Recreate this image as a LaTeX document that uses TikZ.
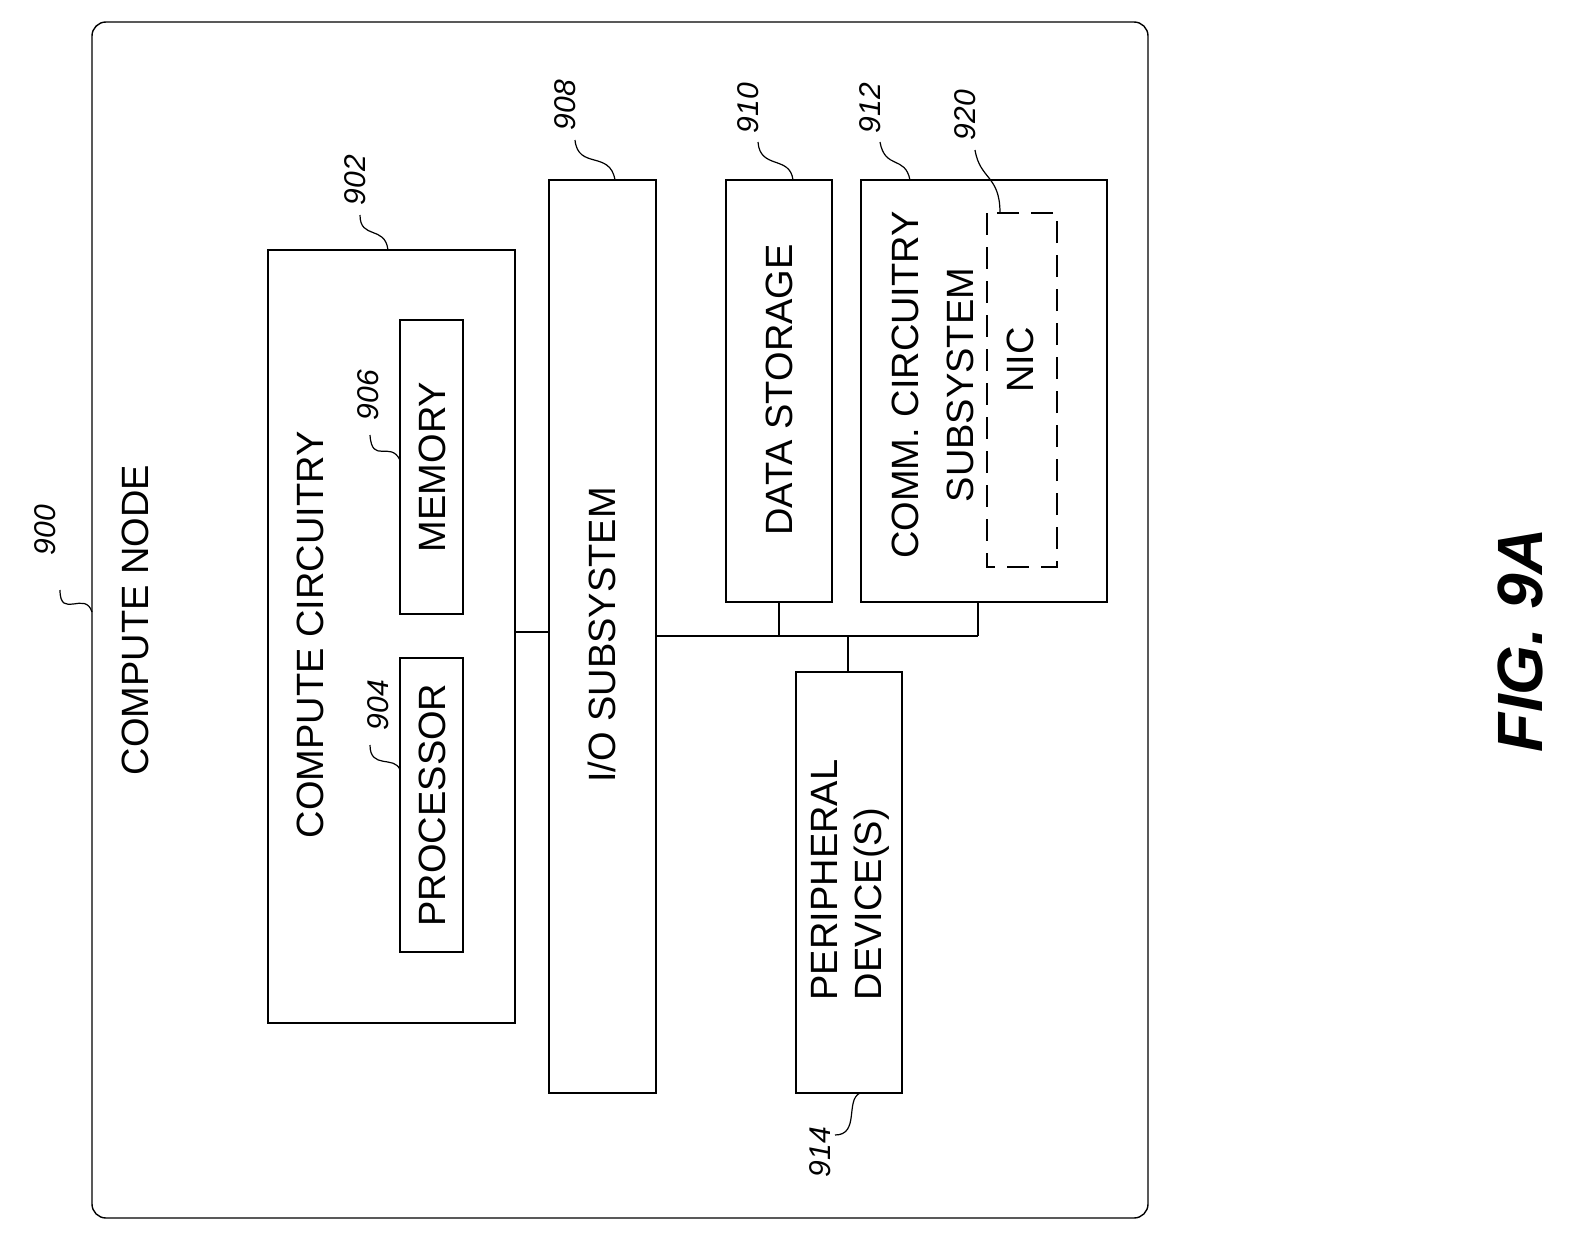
\documentclass[tikz,border=0pt]{standalone}
\usepackage{fontspec}
\setmainfont{Liberation Sans}
\begin{document}
\begin{tikzpicture}[x=1pt,y=-1pt,
  box/.style={draw,line width=1.4pt},
  lbl/.style={rotate=90,font=\fontsize{38}{44}\selectfont,inner sep=0pt,align=left},
  num/.style={rotate=90,font=\fontsize{30}{34}\selectfont\itshape,inner sep=0pt},
  lead/.style={line width=1.2pt}]
\useasboundingbox (0,0) rectangle (1574,1244);
\draw[box,rounded corners=14pt] (92,22) rectangle (1148,1218);
\node[lbl] (cn) at (135,620) {COMPUTE NODE};
\node[num] (n900) at (45,530) {900};
\coordinate (c900) at (92,612);
\draw[lead] (60,590) .. controls (60,620) and (85,590) .. (c900);

% compute circuitry
\draw[box] (268,250) rectangle (515,1023);
\coordinate (ccR) at (515,632);
\node[lbl] (cc) at (310,635) {COMPUTE CIRCUITRY};
\node[num] (n902) at (355,180) {902};
\draw[lead] (360,215) .. controls (360,240) and (385,225) .. (388,250);

\draw[box] (400,658) rectangle (463,952);
\node[lbl] (proc) at (432,805) {PROCESSOR};
\node[num] (n904) at (378,705) {904};
\draw[lead] (370,745) .. controls (370,770) and (395,755) .. (400,770);

\draw[box] (400,320) rectangle (463,614);
\node[lbl] (mem) at (432,467) {MEMORY};
\node[num] (n906) at (368,395) {906};
\draw[lead] (370,435) .. controls (372,465) and (390,440) .. (400,460);

% IO
\draw[box] (549,180) rectangle (656,1093);
\coordinate (ioL) at (549,632);
\coordinate (ioR) at (656,636);
\node[lbl] (io) at (602,635) {I/O SUBSYSTEM};
\node[num] (n908) at (565,105) {908};
\draw[lead] (575,140) .. controls (578,170) and (610,150) .. (615,180);
\draw[lead] (ccR) -- (ioL);

% data storage
\draw[box] (726,180) rectangle (832,602);
\node[lbl] (ds) at (779,390) {DATA STORAGE};
\node[num] (n910) at (748,108) {910};
\draw[lead] (758,142) .. controls (760,170) and (790,155) .. (793,180);

% comm
\draw[box] (861,180) rectangle (1107,602);
\node[lbl] (comm) at (905,385) {COMM. CIRCUITRY};
\node[lbl] (sub) at (960,385) {SUBSYSTEM};
\node[num] (n912) at (870,108) {912};
\draw[lead] (880,142) .. controls (885,170) and (905,155) .. (910,180);
\draw[line width=1.6pt,dash pattern=on 22pt off 12pt] (987,213) rectangle (1057,567);
\node[lbl] (nic) at (1020,360) {NIC};
\node[num] (n920) at (965,115) {920};
\draw[lead] (975,150) .. controls (980,180) and (1000,175) .. (1000,213);

% bus
\coordinate (b1) at (779,636);
\coordinate (b2) at (848,636);
\coordinate (b3) at (978,636);
\draw[lead] (ioR) -- (b3);
\draw[lead] (779,602) -- (b1);
\draw[lead] (978,602) -- (b3);
\draw[lead] (b2) -- (848,672);

% peripheral
\draw[box] (796,672) rectangle (902,1093);
\node[lbl] (per) at (850,880) {PERIPHERAL\\DEVICE(S)};
\node[num] (n914) at (820,1152) {914};
\draw[lead] (835,1135) .. controls (860,1135) and (845,1100) .. (860,1093);

\node[rotate=90,font=\fontsize{64}{70}\selectfont\bfseries\itshape] (fig) at (1520,640) {FIG. 9A};
\end{tikzpicture}
\end{document}
